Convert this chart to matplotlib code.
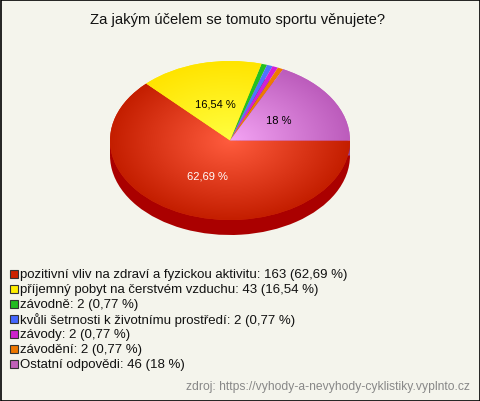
import numpy as np
import matplotlib
matplotlib.use("Agg")
import matplotlib.pyplot as plt
from matplotlib.patches import Rectangle
from matplotlib.colors import LinearSegmentedColormap

plt.rcParams['font.family'] = ['Liberation Sans', 'DejaVu Sans']

# Data
title = "Za jakým účelem se tomuto sportu věnujete?"
categories = ["pozitivní vliv na zdraví a fyzickou aktivitu",
              "příjemný pobyt na čerstvém vzduchu",
              "závodně",
              "kvůli šetrnosti k životnímu prostředí",
              "závody",
              "závodění",
              "Ostatní odpovědi"]
counts = [163, 43, 2, 2, 2, 2, 46]
pct_labels = ["62,69 %", "16,54 %", "0,77 %", "0,77 %", "0,77 %", "0,77 %", "18 %"]
source = "zdroj: https://vyhody-a-nevyhody-cyklistiky.vyplnto.cz"

colors = ["#d42a10", "#fff000", "#22c022", "#4f74ff", "#d21fd8", "#ee7a00", "#c868c4"]
light = ["#ff5c3e", "#ffff40", "#22c022", "#4f74ff", "#d21fd8", "#ee7a00", "#f4a4f4"]
dark = ["#c41e00", "#ffe400", "#22c022", "#4f74ff", "#d21fd8", "#ee7a00", "#bc5cbc"]
side_colors = ["#aa0000", "#c8b400", "#188c18", "#3450c0", "#9a169e", "#b05a00", "#94489a"]
legend_colors = ["#cc2200", "#ffee00", "#22bb22", "#4466ff", "#cc22cc", "#ee7700", "#c060b8"]
bg = "#f4f4ec"

W, H = 480, 402
fig = plt.figure(figsize=(W / 100, H / 100), dpi=100, facecolor=bg)

# pie axes: pixel box x 110..350, y 61..235 ; ellipse ry ~79.5 px
depth = 15 / 79.5
ax = fig.add_axes([110 / W, 1 - 236 / H, 240 / W, 174 / H])
ax.set_facecolor('none')

# side of the 3D pie
side, _ = ax.pie(counts, colors=side_colors, startangle=0, counterclock=False,
                 center=(0, -depth), wedgeprops=dict(linewidth=0))
ax.add_patch(Rectangle((-1, -depth), 2, depth, facecolor=side_colors[0],
                       linewidth=0, zorder=0.5))

# top face
wedges, texts = ax.pie(counts, colors=colors, startangle=0, counterclock=False,
                       labels=[l if c > 10 else "" for l, c in zip(pct_labels, counts)],
                       labeldistance=0.48,
                       wedgeprops=dict(linewidth=0),
                       textprops=dict(fontsize=8.0, ha='center', va='center'))
for w in wedges:
    w.set_zorder(2)

# radial shading on the top face
gx, gy = np.meshgrid(np.linspace(-1, 1, 300), np.linspace(-1, 1, 300))
rr = np.sqrt(gx ** 2 + gy ** 2)
for i, w in enumerate(wedges):
    if counts[i] < 10:
        continue
    cmap = LinearSegmentedColormap.from_list("g%d" % i, [light[i], dark[i]])
    im = ax.imshow(rr, cmap=cmap, vmin=0, vmax=1, extent=(-1, 1, -1, 1),
                   origin='lower', zorder=2.5, interpolation='bilinear')
    im.set_clip_path(w)

for t, c in zip(texts, counts):
    t.set_zorder(5)
texts[0].set_color('white')

ax.set_aspect('auto')
ax.set_xlim(-1, 1)
ax.set_ylim(-1 - depth, 1)
ax.axis('off')

# overlay in pixel coordinates for title, legend and source
ov = fig.add_axes([0, 0, 1, 1], facecolor='none')
ov.set_xlim(0, W)
ov.set_ylim(H, 0)
ov.axis('off')

ov.text(W / 2 - 2, 20, title, ha='center', va='center', fontsize=10.6, color='#111111')

for i, (cat, cnt, pl) in enumerate(zip(categories, counts, pct_labels)):
    y = 275 + i * 15
    ov.add_patch(Rectangle((10, y - 4), 8, 8, facecolor=legend_colors[i],
                           edgecolor='#333333', linewidth=0.8))
    ov.text(20.5, y, "%s: %d (%s)" % (cat, cnt, pl), ha='left', va='center',
            fontsize=9.5, color='#111111')

ov.text(470, 387, source, ha='right', va='center', fontsize=8.7, color='#888888')

# figure border
ov.add_patch(Rectangle((0.5, 0.5), W - 1, H - 1, facecolor='none',
                       edgecolor='black', linewidth=1.2))

fig.savefig("out.png", dpi=100, facecolor=bg)
